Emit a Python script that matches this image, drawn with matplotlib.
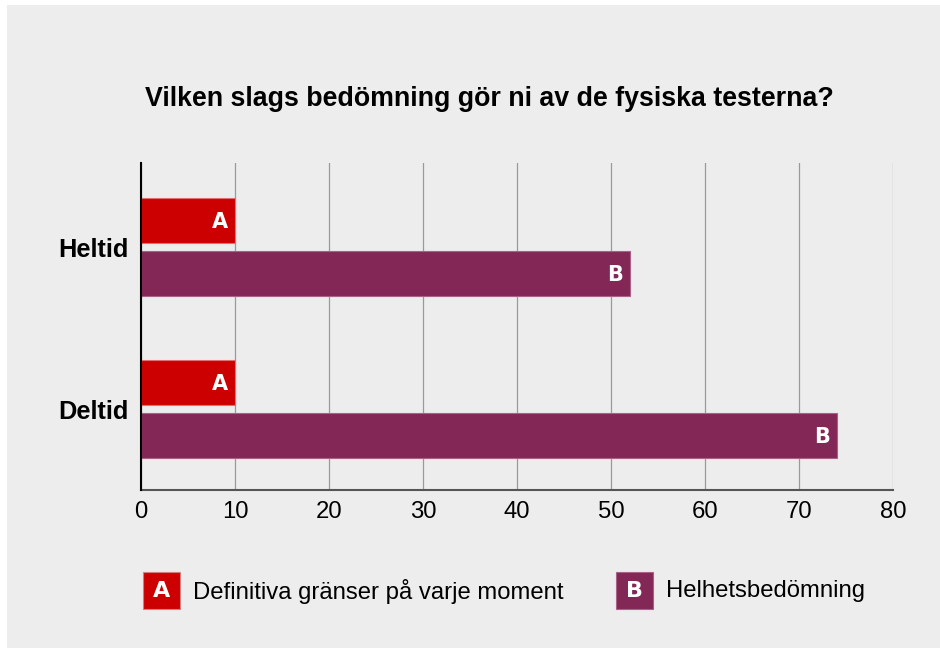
import numpy as np
import matplotlib.pyplot as plt
from matplotlib.patches import Rectangle

# Data
groups = ["Heltid", "Deltid"]
series_a = [10, 10]
series_b = [52, 74]
letters = ["A", "B"]
legend_labels = ["Definitiva gränser på varje moment", "Helhetsbedömning"]
xticks = [0, 10, 20, 30, 40, 50, 60, 70, 80]
title = "Vilken slags bedömning gör ni av de fysiska testerna?"

red = "#cc0000"
purple = "#832756"
bg = "#ededed"

fig = plt.figure(figsize=(9.4, 6.48), dpi=100)
fig.patch.set_facecolor("white")
fig.add_artist(Rectangle((7 / 940, 0), 1, 1 - 5 / 648, transform=fig.transFigure,
                         facecolor=bg, edgecolor="none", zorder=-10))

ax = fig.add_axes([141 / 940, 1 - 490 / 648, 752 / 940, 327 / 648])
ax.set_facecolor(bg)

y = np.array([1, 0])
h = 0.278
off = 0.164
bars_a = ax.barh(y + off, series_a, height=h, color=red, edgecolor="#e07070", linewidth=0.8, zorder=3)
bars_b = ax.barh(y - off, series_b, height=h, color=purple, edgecolor="#a9608a", linewidth=0.8, zorder=3)

for bars, let in [(bars_a, letters[0]), (bars_b, letters[1])]:
    for b in bars:
        ax.annotate(let, (b.get_width(), b.get_y() + b.get_height() / 2),
                    xytext=(-7, -1), textcoords="offset pixels", ha="right", va="center",
                    color="white", fontsize=15, fontweight="bold", family="DejaVu Sans", zorder=4)

ax.set_xlim(0, 80)
ax.set_ylim(-0.5, 1.52)
ax.set_xticks(xticks)
ax.set_xticklabels([str(t) for t in xticks], fontsize=17.2, family="Liberation Sans")
ax.set_yticks(y)
ax.set_yticklabels(groups, fontsize=18.3, fontweight="bold", family="Liberation Sans")
ax.tick_params(length=0, pad=8)
ax.tick_params(axis="y", pad=9)
ax.grid(axis="x", color="#9a9a9a", linewidth=0.9, zorder=0)
for s in ["top", "right"]:
    ax.spines[s].set_visible(False)
ax.spines["left"].set_color("black")
ax.spines["left"].set_linewidth(1.5)
ax.spines["left"].set_zorder(5)
ax.spines["bottom"].set_color("#555555")
ax.spines["bottom"].set_linewidth(1.5)

fig.text(489 / 940, 1 - 99 / 648, title, ha="center", va="center", fontsize=19.3,
         fontweight="bold", family="Liberation Sans")

# legend
for x0, col, let, lab in [(143, red, letters[0], legend_labels[0]), (616, purple, letters[1], legend_labels[1])]:
    fig.add_artist(Rectangle((x0 / 940, 1 - 609 / 648), 37 / 940, 37 / 648, transform=fig.transFigure,
                             facecolor=col, edgecolor="#d08080" if col == red else "#a9608a", linewidth=0.8))
    fig.text((x0 + 18.5) / 940, 1 - 591 / 648, let, ha="center", va="center", color="white",
             fontsize=16, fontweight="bold", family="DejaVu Sans")
    fig.text((x0 + 50) / 940, 1 - 591 / 648, lab, ha="left", va="center", fontsize=17.2,
             family="Liberation Sans")

fig.savefig("out.png", dpi=100, facecolor=fig.get_facecolor())
